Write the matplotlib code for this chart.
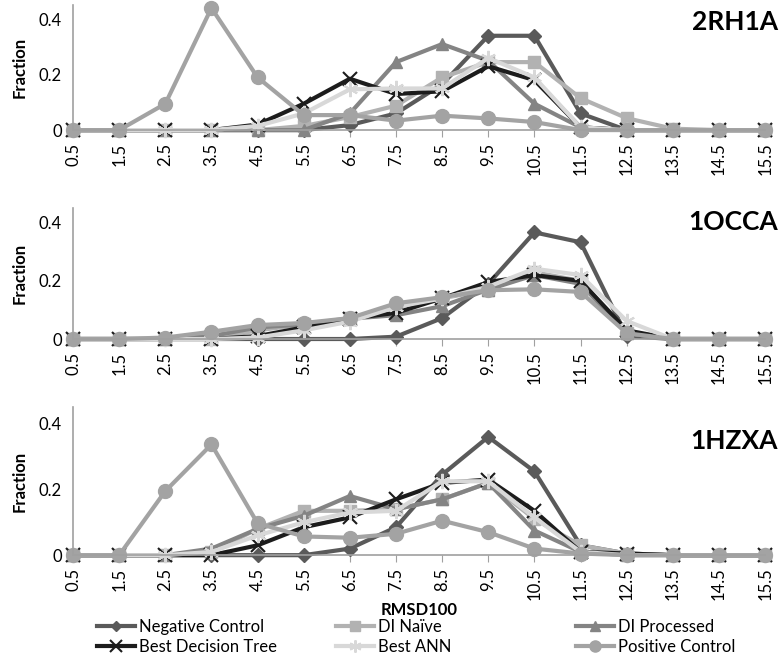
import numpy as np
import matplotlib
matplotlib.use("Agg")
import matplotlib.pyplot as plt

plt.rcParams['font.family'] = ['Lato', 'DejaVu Sans']

# RMSD100 bins
bins = [0.5, 1.5, 2.5, 3.5, 4.5, 5.5, 6.5, 7.5, 8.5, 9.5, 10.5, 11.5, 12.5, 13.5, 14.5, 15.5]
bin_labels = ['0.5', '1.5', '2.5', '3.5', '4.5', '5.5', '6.5', '7.5', '8.5', '9.5',
              '10.5', '11.5', '12.5', '13.5', '14.5', '15.5']

series_names = ['Negative Control', 'DI Naïve', 'DI Processed',
                'Best Decision Tree', 'Best ANN', 'Positive Control']

# 2RH1A
neg_2rh1a = [0, 0, 0, 0, 0, 0, 0.018, 0.06, 0.165, 0.34, 0.34, 0.06, 0, 0, 0, 0]
naive_2rh1a = [0, 0, 0, 0, 0, 0.015, 0.047, 0.088, 0.19, 0.245, 0.245, 0.115, 0.043, 0.005, 0, 0]
proc_2rh1a = [0, 0, 0, 0, 0, 0, 0.06, 0.245, 0.31, 0.25, 0.095, 0.01, 0, 0, 0, 0]
tree_2rh1a = [0, 0, 0, 0, 0.02, 0.095, 0.185, 0.13, 0.14, 0.23, 0.18, 0.01, 0, 0, 0, 0]
ann_2rh1a = [0, 0, 0, 0, 0.015, 0.06, 0.147, 0.15, 0.15, 0.26, 0.19, 0.01, 0, 0, 0, 0]
pos_2rh1a = [0, 0, 0.095, 0.44, 0.19, 0.054, 0.054, 0.034, 0.052, 0.042, 0.029, 0, 0, 0, 0, 0]

# 1OCCA
neg_1occa = [0, 0, 0, 0, 0, 0, 0, 0.008, 0.072, 0.19, 0.367, 0.333, 0.01, 0, 0, 0]
naive_1occa = [0, 0, 0, 0, 0.03, 0.05, 0.072, 0.11, 0.14, 0.17, 0.23, 0.2, 0.02, 0, 0, 0]
proc_1occa = [0, 0, 0, 0.01, 0.04, 0.05, 0.07, 0.082, 0.113, 0.17, 0.22, 0.19, 0.02, 0, 0, 0]
tree_1occa = [0, 0, 0, 0, 0.01, 0.04, 0.07, 0.09, 0.14, 0.196, 0.22, 0.2, 0.03, 0, 0, 0]
ann_1occa = [0, 0, 0, 0, 0.005, 0.03, 0.06, 0.11, 0.14, 0.18, 0.242, 0.22, 0.062, 0, 0, 0]
pos_1occa = [0, 0, 0.005, 0.025, 0.048, 0.055, 0.072, 0.123, 0.144, 0.168, 0.171, 0.162, 0.02, 0, 0, 0]

# 1HZXA
neg_1hzxa = [0, 0, 0, 0, 0, 0, 0.02, 0.085, 0.245, 0.36, 0.255, 0.03, 0.005, 0, 0, 0]
naive_1hzxa = [0, 0, 0, 0.01, 0.08, 0.135, 0.135, 0.14, 0.17, 0.22, 0.11, 0.03, 0.005, 0, 0, 0]
proc_1hzxa = [0, 0, 0, 0.02, 0.08, 0.12, 0.18, 0.14, 0.17, 0.22, 0.075, 0.01, 0, 0, 0, 0]
tree_1hzxa = [0, 0, 0, 0, 0.03, 0.085, 0.115, 0.17, 0.22, 0.23, 0.135, 0.01, 0.005, 0, 0, 0]
ann_1hzxa = [0, 0, 0, 0.01, 0.06, 0.1, 0.13, 0.135, 0.225, 0.225, 0.115, 0.01, 0, 0, 0, 0]
pos_1hzxa = [0, 0, 0.195, 0.337, 0.097, 0.057, 0.053, 0.065, 0.105, 0.07, 0.02, 0.005, 0, 0, 0, 0]

panel_titles = ['2RH1A', '1OCCA', '1HZXA']
panel_data = [
    [neg_2rh1a, naive_2rh1a, proc_2rh1a, tree_2rh1a, ann_2rh1a, pos_2rh1a],
    [neg_1occa, naive_1occa, proc_1occa, tree_1occa, ann_1occa, pos_1occa],
    [neg_1hzxa, naive_1hzxa, proc_1hzxa, tree_1hzxa, ann_1hzxa, pos_1hzxa],
]

colors = ['#5a5a5a', '#b2b2b2', '#848484', '#1c1c1c', '#d8d8d8', '#a3a3a3']
markers = ['D', 's', '^', 'x', (6, 2, 0), 'o']
msizes = [7, 9, 9, 10, 11, 10]

fig = plt.figure(figsize=(7.82, 6.57), dpi=100)

# axes rectangles in figure fraction (left, bottom, width, height)
rects = [
    (0.0934, 0.802, 0.885, 0.190),
    (0.0934, 0.484, 0.885, 0.199),
    (0.0934, 0.155, 0.885, 0.225),
]
# title centre heights (figure fraction)
title_y = [1 - 22 / 657, 1 - 222 / 657, 1 - 441 / 657]

axes = []
for rect, title, ty, data in zip(rects, panel_titles, title_y, panel_data):
    ax = fig.add_axes(rect)
    for vals, name, c, m, ms in zip(data, series_names, colors, markers, msizes):
        mew = 1.5 if m in ('x', (6, 2, 0)) else 1
        ax.plot(bins, vals, color=c, lw=3, marker=m, ms=ms, mfc=c, mec=c,
                mew=mew, label=name, clip_on=False)
    ax.set_xlim(0.5, 15.5)
    ax.set_ylim(0, 0.45)
    ax.set_xticks(bins)
    ax.set_xticklabels(bin_labels, rotation=90, fontsize=12)
    ax.set_yticks([0, 0.2, 0.4])
    ax.set_yticklabels(['0', '0.2', '0.4'], fontsize=12)
    ax.tick_params(axis='x', length=5, color='#a0a0a0', pad=4)
    ax.tick_params(axis='y', length=0, pad=8)
    for s in ('top', 'right'):
        ax.spines[s].set_visible(False)
    for s in ('left', 'bottom'):
        ax.spines[s].set_color('#a0a0a0')
        ax.spines[s].set_linewidth(1.2)
    ax.set_ylabel('Fraction', fontsize=12, fontweight='bold', labelpad=8)
    fig.text(778 / 782, ty, title, ha='right', va='center',
             fontsize=19, fontweight='bold')
    axes.append(ax)

axes[-1].set_xlabel('RMSD100', fontsize=12, fontweight='bold', labelpad=1)

# legend: three columns, filled row by row
handles, labels = axes[0].get_legend_handles_labels()
col_x = [97 / 782, 336 / 782, 576 / 782]
for i, x0 in enumerate(col_x):
    fig.legend([handles[i], handles[i + 3]], [labels[i], labels[i + 3]],
               loc='upper left', bbox_to_anchor=(x0, 1 - 619 / 657),
               frameon=False, fontsize=12, handlelength=2.3,
               handletextpad=0.2, labelspacing=0.25, borderpad=0,
               borderaxespad=0, markerscale=0.8)

fig.savefig('out.png', dpi=100)
